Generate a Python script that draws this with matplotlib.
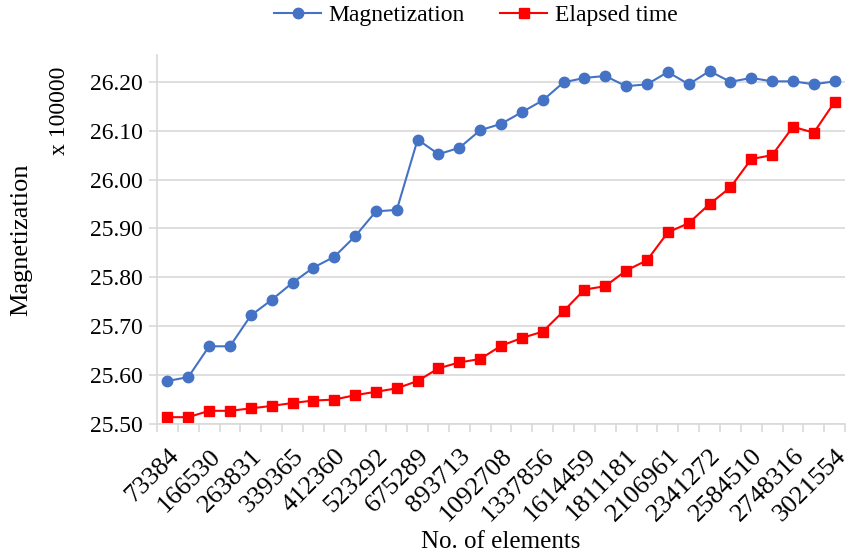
import numpy as np
import matplotlib.pyplot as plt

plt.rcParams['font.family'] = ['Liberation Serif', 'DejaVu Serif']

# every other category is labelled on the axis
tick_labels = ['73384', '166530', '263831', '339365', '412360', '523292', '675289',
               '893713', '1092708', '1337856', '1614459', '1811181', '2106961',
               '2341272', '2584510', '2748316', '3021554']

# magnetization (x 100000), 33 points
magnetization = [25.588, 25.596, 25.659, 25.659, 25.722, 25.754, 25.789, 25.820,
                 25.842, 25.884, 25.935, 25.938, 26.082, 26.052, 26.065, 26.101,
                 26.114, 26.138, 26.162, 26.199, 26.208, 26.212, 26.191, 26.195,
                 26.220, 26.195, 26.222, 26.200, 26.208, 26.201, 26.201, 26.195,
                 26.201]

# elapsed time, drawn on the same scale
elapsed = [25.514, 25.514, 25.527, 25.527, 25.532, 25.537, 25.543, 25.548,
           25.550, 25.559, 25.566, 25.573, 25.588, 25.614, 25.626, 25.633,
           25.660, 25.676, 25.689, 25.731, 25.775, 25.782, 25.814, 25.835,
           25.892, 25.911, 25.950, 25.984, 26.042, 26.050, 26.108, 26.096,
           26.159]

x = np.arange(len(magnetization))

fig = plt.figure(figsize=(8.65, 5.55), dpi=100)
ax = fig.add_axes([0.1815, 0.236, 0.7955, 0.665])

ax.plot(x, magnetization, color='#4472C4', lw=1.5, marker='o', ms=7.5, label='Magnetization')
ax.plot(x, elapsed, color='#FF0000', lw=1.5, marker='s', ms=7, label='Elapsed time')

ax.set_xlim(-0.5, len(x) - 0.5)
ax.set_ylim(25.5, 26.255)
ax.set_yticks(np.arange(25.5, 26.21, 0.1))
ax.set_yticklabels(['%.2f' % v for v in np.arange(25.5, 26.21, 0.1)], fontsize=17)
ax.yaxis.grid(True, color='#d9d9d9', lw=1.2)
ax.set_axisbelow(True)

ax.set_xticks(x[::2])
ax.set_xticklabels(tick_labels, rotation=45, ha='right', rotation_mode='anchor', fontsize=19)
ax.set_xticks(np.arange(-0.5, len(x), 1), minor=True)
ax.tick_params(axis='x', which='major', length=0, pad=15)
ax.tick_params(axis='x', which='minor', length=6, color='#d9d9d9', width=1.2)
ax.tick_params(axis='y', length=6, color='#d9d9d9', width=1.2, pad=4)

for s in ['top', 'right']:
    ax.spines[s].set_visible(False)
for s in ['left', 'bottom']:
    ax.spines[s].set_color('#d9d9d9')
    ax.spines[s].set_linewidth(1.2)

ax.set_xlabel('No. of elements', fontsize=18, labelpad=4)
ax.set_ylabel('Magnetization', fontsize=19, labelpad=42)
fig.text(0.069, 0.8, 'x 100000', rotation=90, fontsize=17, ha='center', va='center')

fig.legend(loc='upper center', bbox_to_anchor=(0.55, 1.03), ncol=2, frameon=False,
           fontsize=17, handlelength=2.0, columnspacing=1.5, handletextpad=0.3)

fig.savefig('out.png', dpi=100)
